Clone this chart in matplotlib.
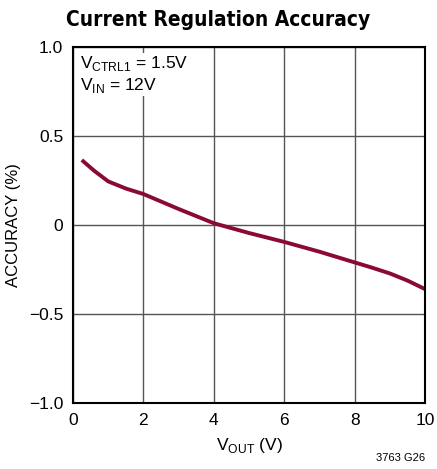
import matplotlib
matplotlib.use("Agg")
import matplotlib.pyplot as plt

plt.rcParams['font.family'] = ['Liberation Sans', 'DejaVu Sans']

vout = [0.25, 0.6, 1.0, 1.5, 2.0, 3.0, 4.0, 5.0, 6.0, 7.0, 8.0, 8.5, 9.0, 9.5, 10.0]
accuracy = [0.365, 0.305, 0.245, 0.205, 0.174, 0.09, 0.01, -0.045, -0.095, -0.15, -0.21, -0.24, -0.272, -0.312, -0.36]

xticks = [0, 2, 4, 6, 8, 10]
yticks = [-1.0, -0.5, 0, 0.5, 1.0]
ytick_labels = ['\u22121.0', '\u22120.5', '0', '0.5', '1.0']

fig = plt.figure(figsize=(4.37, 4.69), dpi=100)
ax = fig.add_axes([73 / 437, 1 - 403 / 469, 352 / 437, 356 / 469])

ax.plot(vout, accuracy, color='#8B0A32', linewidth=2.8, solid_capstyle='butt')

ax.set_xlim(0, 10)
ax.set_ylim(-1.0, 1.0)
ax.set_xticks(xticks)
ax.set_yticks(yticks)
ax.set_yticklabels(ytick_labels)
ax.tick_params(length=0, labelsize=12.5, pad=7)
ax.grid(True, color='#555555', linewidth=1.0)
for s in ax.spines.values():
    s.set_linewidth(1.5)
    s.set_color('black')

ax.set_xlabel('V$_{\\mathregular{OUT}}$ (V)', fontsize=12.5, labelpad=6)
ax.set_ylabel('ACCURACY (%)', fontsize=12, labelpad=6)
fig.text(218 / 437, 1 - 20 / 469, 'Current Regulation Accuracy',
         ha='center', va='center', fontsize=15, fontweight='bold', fontstretch='condensed',
         family='DejaVu Sans')
ax.text(0.02, 0.98, 'V$_{\\mathregular{CTRL1}}$ = 1.5V\nV$_{\\mathregular{IN}}$ = 12V',
        transform=ax.transAxes, ha='left', va='top', fontsize=12.5,
        bbox=dict(facecolor='white', edgecolor='none', pad=1))
fig.text(425 / 437, 1 - 458 / 469, '3763 G26', ha='right', va='center', fontsize=8)

fig.savefig('out.png', dpi=100)
